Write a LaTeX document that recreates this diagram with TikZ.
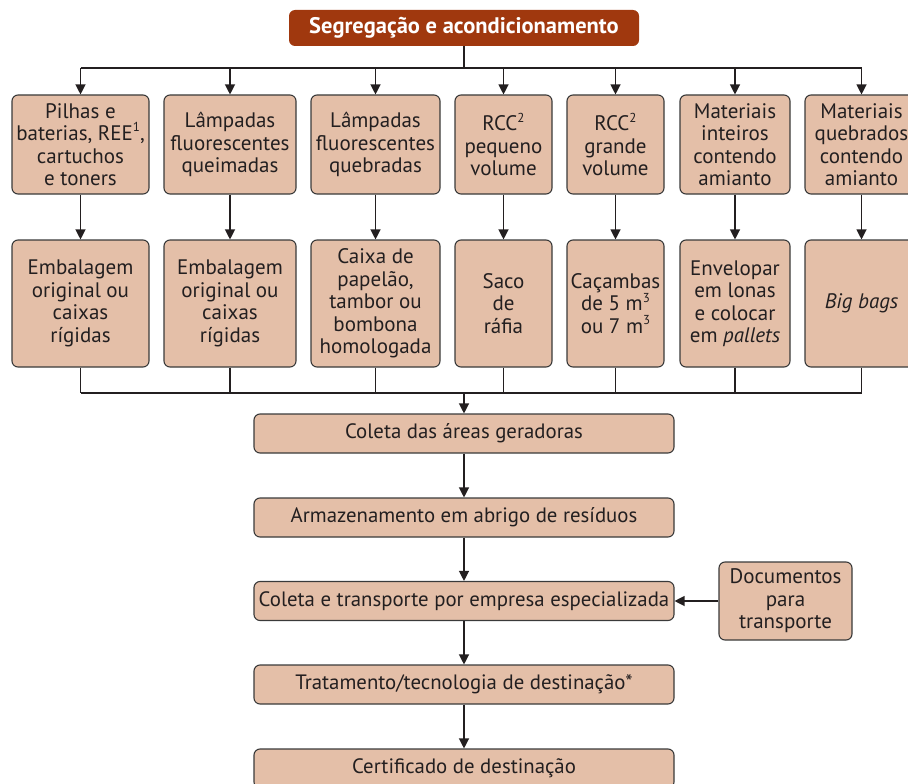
\documentclass[tikz,border=0pt]{standalone}
\usepackage{fontspec}
\setmainfont{PT Sans}
\usetikzlibrary{arrows.meta}
\definecolor{boxfill}{HTML}{E4BFA8}
\definecolor{titlefill}{HTML}{A0380E}
\definecolor{edge}{HTML}{3A3A3A}
\definecolor{ink}{HTML}{231F20}
\newcommand{\mysup}[1]{\raisebox{0.42em}{\fontsize{13}{13}\selectfont #1}}
\begin{document}
\begin{tikzpicture}[x=1pt,y=-1pt,
  box/.style={draw=edge, line width=1.1pt, fill=boxfill, rounded corners=6pt, align=center, inner sep=0pt, text=ink, font=\fontsize{21}{22.5}\selectfont},
  wide/.style={box, minimum width=420pt, minimum height=39pt, font=\fontsize{20.8}{22}\selectfont},
  titlebox/.style={fill=titlefill, rounded corners=6pt, text=white, inner sep=0pt, minimum width=350pt, minimum height=36pt, font=\bfseries\fontsize{22.5}{24}\selectfont},
  conn/.style={draw=ink, line width=1.2pt},
  arr/.style={conn, -{Triangle[length=10pt,width=10pt]}}]
\useasboundingbox (0,0) rectangle (908,784);
\clip (0,0) rectangle (908,784);
% title
\node[titlebox] (title) at (464,28) {Segregação e acondicionamento};
% top row
\node[box, minimum width=137pt, minimum height=99pt] (t1) at (80.5,144.5) {Pilhas e\\baterias, REE\mysup{1},\\cartuchos\\e toners};
\node[box, minimum width=132pt, minimum height=99pt] (t2) at (230,144.5) {Lâmpadas\\fluorescentes\\queimadas};
\node[box, minimum width=129pt, minimum height=99pt] (t3) at (375.5,144.5) {Lâmpadas\\fluorescentes\\quebradas};
\node[box, minimum width=97pt, minimum height=99pt] (t4) at (503.5,144.5) {RCC\mysup{2}\\pequeno\\volume};
\node[box, minimum width=97pt, minimum height=99pt] (t5) at (615.5,144.5) {RCC\mysup{2}\\grande\\volume};
\node[box, minimum width=110pt, minimum height=99pt] (t6) at (735,144.5) {Materiais\\inteiros\\contendo\\amianto};
\node[box, minimum width=113pt, minimum height=99pt] (t7) at (861.5,144.5) {Materiais\\quebrados\\contendo\\amianto};
% second row
\node[box, minimum width=137pt, minimum height=127pt] (b1) at (80.5,303.5) {Embalagem\\original ou\\caixas\\rígidas};
\node[box, minimum width=132pt, minimum height=127pt] (b2) at (230,303.5) {Embalagem\\original ou\\caixas\\rígidas};
\node[box, minimum width=129pt, minimum height=127pt] (b3) at (375.5,303.5) {Caixa de\\papelão,\\tambor ou\\bombona\\homologada};
\node[box, minimum width=97pt, minimum height=127pt] (b4) at (503.5,303.5) {Saco\\de\\ráfia};
\node[box, minimum width=97pt, minimum height=127pt] (b5) at (615.5,303.5) {Caçambas\\de 5 m\mysup{3}\\ou 7 m\mysup{3}};
\node[box, minimum width=110pt, minimum height=127pt] (b6) at (735,303.5) {Envelopar\\em lonas\\e colocar\\em \textit{pallets}};
\node[box, minimum width=113pt, minimum height=127pt] (b7) at (861.5,303.5) {\textit{Big bags}};
% chain
\node[wide] (c1) at (464,433.5) {Coleta das áreas geradoras};
\node[wide] (c2) at (464,517.5) {Armazenamento em abrigo de resíduos};
\node[wide] (c3) at (464,601) {Coleta e transporte por empresa especializada};
\node[wide] (c4) at (464,684.5) {Tratamento/tecnologia de destinação*};
\node[wide] (c5) at (464,768.5) {Certificado de destinação};
\node[box, minimum width=133pt, minimum height=78pt] (doc) at (785.5,601) {Documentos\\para\\transporte};
% connectors top
\coordinate (h) at (464,68);
\draw[conn] (title.south) -- (h);
\draw[conn] (t1.north |- h) -- (t7.north |- h);
\foreach \n in {t1,t2,t3,t4,t5,t6,t7} {\draw[arr] (\n.north |- h) -- (\n.north);}
\draw[arr] (t1) -- (b1);
\draw[arr] (t2) -- (b2);
\draw[arr] (t3) -- (b3);
\draw[arr] (t4) -- (b4);
\draw[arr] (t5) -- (b5);
\draw[arr] (t6) -- (b6);
\draw[arr] (t7) -- (b7);
% merge
\coordinate (m) at (464,393);
\foreach \n in {b1,b2,b3,b4,b5,b6,b7} {\draw[conn] (\n.south) -- (\n.south |- m);}
\draw[conn] (b1.south |- m) -- (b7.south |- m);
\draw[arr] (m) -- (c1);
\draw[arr] (c1) -- (c2);
\draw[arr] (c2) -- (c3);
\draw[arr] (c3) -- (c4);
\draw[arr] (c4) -- (c5);
\draw[arr] (doc) -- (c3);
\end{tikzpicture}
\end{document}
